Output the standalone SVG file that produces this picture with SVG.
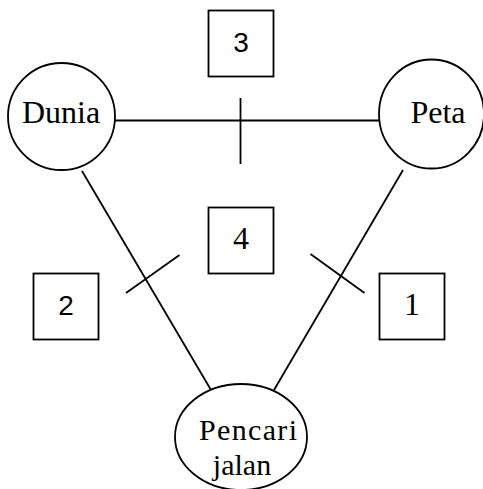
<svg xmlns="http://www.w3.org/2000/svg" width="483" height="489" viewBox="0 0 483 489">
<style>
.s{fill:none;stroke:#000;stroke-width:1.8}
.n{fill:#fff;stroke:#000;stroke-width:1.8}
.t{font-family:"Liberation Serif","DejaVu Serif",serif;font-size:32px;fill:#000;text-anchor:middle}
.p{font-family:"Liberation Serif","DejaVu Serif",serif;font-size:30px;fill:#000;text-anchor:middle}
.d{font-family:"Liberation Sans",Arial,sans-serif;font-size:28px;fill:#000;text-anchor:middle}
</style>
<rect width="483" height="489" fill="#fff"/>
<g id="connectors">
<line class="s" x1="115" y1="120.5" x2="379" y2="120.5"/>
<line class="s" x1="240.5" y1="98" x2="240.5" y2="164"/>
<line class="s" x1="82" y1="171" x2="211" y2="390"/>
<line class="s" x1="126" y1="293" x2="179.5" y2="255"/>
<line class="s" x1="403" y1="170" x2="274" y2="390"/>
<line class="s" x1="310.5" y1="254" x2="364.5" y2="293"/>
</g>
<g id="dunia">
<circle class="n" cx="61.5" cy="116.5" r="53.5"/>
<text class="t" x="61" y="123">Dunia</text>
</g>
<g id="peta">
<ellipse class="n" cx="431.5" cy="114" rx="52.5" ry="54.5"/>
<text class="t" x="438" y="123">Peta</text>
</g>
<g id="pencari">
<ellipse class="n" cx="241" cy="437" rx="66" ry="53"/>
<text class="p" x="248" y="440" textLength="98" lengthAdjust="spacing">Pencari</text>
<text class="p" x="242" y="475">jalan</text>
</g>
<g id="box3">
<rect class="n" x="208.5" y="10.5" width="65" height="66"/>
<text class="d" x="241" y="52">3</text>
</g>
<g id="box4">
<rect class="n" x="208.5" y="207.5" width="65" height="66"/>
<text class="t" x="241" y="249">4</text>
</g>
<g id="box2">
<rect class="n" x="33.5" y="273.5" width="65" height="66"/>
<text class="d" x="66" y="315">2</text>
</g>
<g id="box1">
<rect class="n" x="379.5" y="273.5" width="65" height="66"/>
<text class="t" x="412" y="315">1</text>
</g>
</svg>
